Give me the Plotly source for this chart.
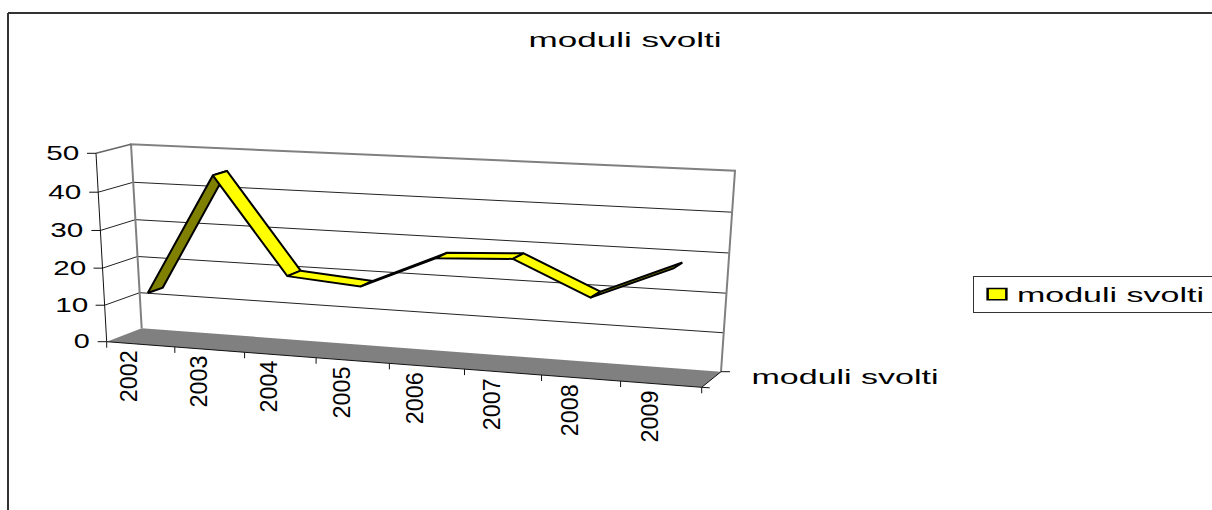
import plotly.graph_objects as go

series_name = "moduli svolti"
years = ["2002", "2003", "2004", "2005", "2006", "2007", "2008", "2009"]
moduli_svolti = [13, 45, 20, 18.5, 27, 28, 19.5, 28]
value_ticks = [0, 10, 20, 30, 40, 50]

VMAX = 50.0
# Pixel position of the eight corners of the 3-D box (category edge, depth, value)
FRONT_L0 = (106.7, 341.7); FRONT_L1 = (96.0, 153.3)
FRONT_R0 = (701.7, 387.3); FRONT_R1 = (716.0, 182.7)
BACK_L0 = (141.7, 328.3); BACK_L1 = (131.0, 144.3)
BACK_R0 = (721.0, 371.7); BACK_R1 = (735.0, 170.7)
PERSP = 0.095
RIBBON_D = (0.28, 0.72)


def lerp(a, b, t):
    return (a[0] + (b[0] - a[0]) * t, a[1] + (b[1] - a[1]) * t)


def project(c, d, v):
    t = c / len(years)
    f = t * (1 - PERSP) / (1 - PERSP * t)
    u = v / VMAX
    w = u * (0.96 + 0.04 * u)
    fl, fr = lerp(FRONT_L0, FRONT_L1, w), lerp(FRONT_R0, FRONT_R1, w)
    bl, br = lerp(BACK_L0, BACK_L1, w), lerp(BACK_R0, BACK_R1, w)
    return lerp(lerp(fl, fr, f), lerp(bl, br, f), d)


def poly(points, **kw):
    return go.Scatter(
        x=[p[0] for p in points], y=[p[1] for p in points],
        showlegend=False, hoverinfo="skip", **kw,
    )


def line(points, color, width):
    return poly(points, mode="lines", line=dict(color=color, width=width))


n = len(years)
fig = go.Figure()

# floor
fig.add_trace(poly([project(0, 0, 0), project(n, 0, 0), project(n, 1, 0), project(0, 1, 0), project(0, 0, 0)],
                   mode="lines", fill="toself", fillcolor="#808080", line=dict(width=0)))

# gridlines on back and left walls
for v in value_ticks[1:-1]:
    fig.add_trace(line([project(0, 0, v), project(0, 1, v), project(n, 1, v)], "#222222", 1))

# wall edges
fig.add_trace(line([project(0, 1, 0), project(0, 1, VMAX), project(n, 1, VMAX), project(n, 1, 0)], "#808080", 2))
fig.add_trace(line([project(0, 0, VMAX), project(0, 1, VMAX)], "#666666", 1.5))

# axis lines
fig.add_trace(line([project(0, 0, VMAX), project(0, 0, 0), project(n, 0, 0), project(n, 1, 0)], "#111111", 1))

# value ticks
for v in value_ticks:
    x, y = project(0, 0, v)
    fig.add_trace(line([(x - 9, y), (x, y)], "#111111", 1))

# category ticks
for c in range(n + 1):
    x, y = project(c, 0, 0)
    fig.add_trace(line([(x, y), (x, y + 6)], "#111111", 1))
xr, yr = project(n, 0, 0)
fig.add_trace(line([(xr, yr), (xr + 8, yr + 0.5)], "#111111", 1))
xb, yb = project(n, 1, 0)
fig.add_trace(line([(xb, yb), (xb + 9, yb)], "#111111", 1))

# ribbon: a clearly rising stretch shows its darker underside
d0, d1 = RIBBON_D
for i in range(n - 1):
    a, b = moduli_svolti[i], moduli_svolti[i + 1]
    colour = "#808000" if b - a > 2 else "#FFFF00"
    pts = [project(i + .5, d0, a), project(i + 1.5, d0, b), project(i + 1.5, d1, b), project(i + .5, d1, a), project(i + .5, d0, a)]
    fig.add_trace(poly(pts, mode="lines", fill="toself", fillcolor=colour,
                       line=dict(color="#000000", width=2)))

# legend entry
fig.add_trace(go.Scatter(x=[None], y=[None], mode="markers", name=series_name,
                         marker=dict(symbol="square", size=15, color="#FFFF00",
                                     line=dict(color="#000000", width=2))))

FONT = "Liberation Sans, Arial, sans-serif"
ann = []
for v in value_ticks:
    x, y = project(0, 0, v)
    width = 16 if v == 0 else 33
    ann.append(dict(x=x - 17 - width / 2, y=y - 1, text=str(v), showarrow=False, xanchor="center", yanchor="middle",
                    font=dict(family=FONT, size=21, color="#000000")))
for i, year in enumerate(years):
    x, y = project(i + .5, 0, 0)
    ann.append(dict(x=x - 11, y=y + 32, text=year, textangle=-90, showarrow=False, xanchor="center", yanchor="middle",
                    font=dict(family=FONT, size=23, color="#000000")))
xb2, yb2 = project(n, 1, 0)
ann.append(dict(x=xb2 + 124, y=yb2 + 5.5, text=series_name, showarrow=False, xanchor="center", yanchor="middle",
                font=dict(family=FONT, size=20, color="#000000")))

fig.update_layout(
    width=1212, height=510,
    margin=dict(l=0, r=0, t=0, b=0),
    paper_bgcolor="#FFFFFF", plot_bgcolor="#FFFFFF",
    title=dict(text=series_name, x=625 / 1212, xanchor="center", y=1 - 40 / 510, yanchor="middle",
               font=dict(family=FONT, size=20, color="#000000")),
    xaxis=dict(range=[0, 1212], visible=False, fixedrange=True),
    yaxis=dict(range=[510, 0], visible=False, fixedrange=True),
    annotations=ann,
    showlegend=True,
    legend=dict(x=973 / 1212, y=1 - 273 / 510, xanchor="left", yanchor="top",
                bordercolor="#333333", borderwidth=1, bgcolor="#FFFFFF",
                font=dict(family=FONT, size=21, color="#000000"),
                itemclick=False, itemdoubleclick=False),
    shapes=[
        dict(type="line", xref="paper", yref="paper", x0=8 / 1212, x1=1, y0=1 - 13 / 510, y1=1 - 13 / 510,
             line=dict(color="#333333", width=2)),
        dict(type="line", xref="paper", yref="paper", x0=8 / 1212, x1=8 / 1212, y0=0, y1=1 - 13 / 510,
             line=dict(color="#333333", width=2)),
    ],
)

post = """
document.body.style.margin = '0';
document.documentElement.style.overflow = 'hidden';
document.querySelectorAll('text.legendtext, text.annotation-text, text.gtitle').forEach(function (t) {
  var s = t.textContent.trim(), w = null;
  if (t.classList.contains('legendtext')) {
    w = 187;
    t.setAttribute('x', parseFloat(t.getAttribute('x')) + 3);
  }
  else if (t.classList.contains('gtitle')) w = 193;
  else if (s === 'moduli svolti') w = 187;
  else if (s === '0') w = 16;
  else if (/^[0-9]{2}$/.test(s)) w = 33;
  else if (/^[0-9]{4}$/.test(s)) w = 52;
  if (w) { t.setAttribute('textLength', w); t.setAttribute('lengthAdjust', 'spacingAndGlyphs'); }
});
document.querySelectorAll('clipPath[id^="legend"] rect').forEach(function (r) { r.setAttribute('width', 320); });
var bg = document.querySelector('.legend rect.bg');
if (bg) { bg.setAttribute('width', 320); bg.setAttribute('y', 3); bg.setAttribute('height', 36); }
document.querySelectorAll('.legend .legendpoints path.scatterpts').forEach(function (p) {
  p.setAttribute('transform', 'translate(23,0) scale(1.25,0.75)');
});
"""
fig.write_html("out.html", post_script=post, config={"displayModeBar": False})
